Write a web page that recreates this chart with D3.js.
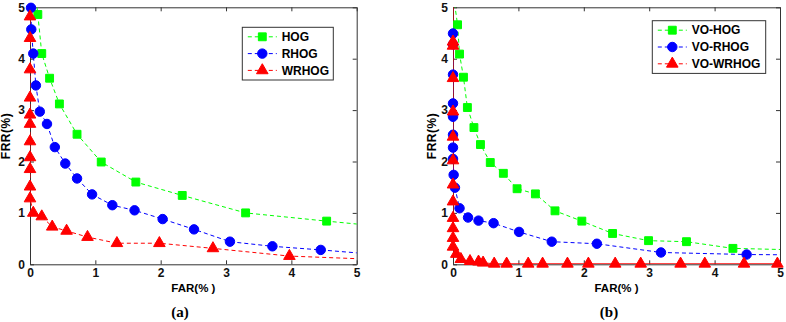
<!DOCTYPE html>
<html>
<head>
<meta charset="utf-8">
<script src="https://cdn.jsdelivr.net/npm/d3@7"></script>
<style>
	body { margin: 0; background: #fff; }
	svg { display: block; }
	.tick text { font-family: "Liberation Sans", Arial, sans-serif; font-weight: bold; font-size: 12px; fill: #111; }
	.axis path, .axis line { stroke: #333; }
</style>
</head>
<body>
<div id="chart"></div>
<script>

// (a) FAR / FRR pairs
const hogA = [[0.07,5.4],[0.12,4.86],[0.18,4.1],[0.3,3.62],[0.45,3.12],[0.72,2.53],[1.09,1.99],[1.62,1.6],
	[2.33,1.34],[3.3,1.0],[4.54,0.84],[5.6,0.71]];
const rhogA = [[0.015,4.99],[0.02,4.57],[0.05,4.1],[0.09,3.48],[0.15,2.97],[0.26,2.73],[0.38,2.28],[0.54,1.96],
	[0.72,1.67],[0.95,1.36],[1.26,1.15],[1.6,1.05],[2.03,0.88],[2.51,0.68],[3.06,0.44],[3.71,0.35],[4.45,0.28],[5.6,0.16]];
const wrhogA = [[0,5.3],[0,4.82],[0,4.4],[0,3.79],[0,3.24],[0,2.91],[0,2.73],[0,2.39],[0,2.08],[0,1.85],[0,1.51],
	[0,1.28],[0.05,1.0],[0.18,0.93],[0.34,0.73],[0.56,0.65],[0.88,0.53],[1.33,0.41],[1.98,0.41],[2.8,0.31],[3.97,0.16],[5.6,0.08]];

// (b)
const voHogB = [[0.01,5.2],[0.07,4.66],[0.1,4.09],[0.16,3.64],[0.22,3.05],[0.32,2.66],[0.42,2.33],[0.57,1.98],
	[0.77,1.77],[0.98,1.47],[1.26,1.37],[1.56,1.04],[1.97,0.84],[2.44,0.6],[2.99,0.46],[3.57,0.44],[4.28,0.31],[5.6,0.27]];
const voRhogB = [[0,4.49],[0,4.28],[0,3.69],[0,3.13],[0,2.87],[0,2.52],[0,2.27],[0,2.05],[0.01,1.74],[0.03,1.49],
	[0.1,1.09],[0.23,0.91],[0.39,0.85],[0.62,0.8],[1.01,0.63],[1.51,0.44],[2.2,0.4],[3.18,0.23],[4.49,0.19],[5.6,0.18]];
const voWrhogB = [[0,5.3],[0,4.33],[0,4.25],[0,3.62],[0,2.97],[0,2.48],[0,2.02],[0,1.55],[0,1.22],[0,0.9],[0,0.7],
	[0,0.51],[0,0.34],[0.05,0.2],[0.12,0.1],[0.26,0.06],[0.39,0.05],[0.46,0.03],[0.63,0.01],[0.82,0.01],[1.15,0.01],
	[1.37,0.01],[1.75,0.01],[2.07,0.01],[2.48,0.01],[2.87,0.01],[3.48,0.01],[3.85,0.01],[4.45,0.01],[4.96,0.01]];

const legendA = ["HOG", "RHOG", "WRHOG"];
const legendB = ["VO-HOG", "VO-RHOG", "VO-WRHOG"];
const ticks = [0, 1, 2, 3, 4, 5];
const captions = ["(a)", "(b)"];

const colors = ["#00ff00", "#0000ff", "#ff0000"];
const shapes = [d3.symbolSquare, d3.symbolCircle, d3.symbolTriangle];
const shapeSize = [62, 70, 58];

const svg = d3.select("#chart").append("svg")
	.attr("width", 786)
	.attr("height", 322);

function drawPanel(cfg) {
	let g = svg.append("g");

	let x = d3.scaleLinear().domain([0, 5]).range([cfg.left, cfg.right]);
	let y = d3.scaleLinear().domain([0, 5]).range([264.3, 7.3]);

	// axes, MATLAB style box with inward ticks
	g.append("g").attr("class", "axis")
		.attr("transform", "translate(0,264.3)")
		.call(d3.axisBottom(x).tickValues(ticks).tickSizeInner(-4).tickSizeOuter(0).tickPadding(4).tickFormat(d3.format("d")));
	g.append("g").attr("class", "axis")
		.attr("transform", "translate(0,7.3)")
		.call(d3.axisTop(x).tickValues(ticks).tickSizeInner(-4).tickSizeOuter(0).tickFormat(""));
	g.append("g").attr("class", "axis")
		.attr("transform", "translate(" + cfg.left + ",0)")
		.call(d3.axisLeft(y).tickValues(ticks).tickSizeInner(-4).tickSizeOuter(0).tickPadding(5).tickFormat(d3.format("d")));
	g.append("g").attr("class", "axis")
		.attr("transform", "translate(" + cfg.right + ",0)")
		.call(d3.axisRight(y).tickValues(ticks).tickSizeInner(-4).tickSizeOuter(0).tickFormat(""));

	g.selectAll(".tick text").attr("font-family", null).attr("font-size", null);

	// clip lines to the axes box (markers stay whole, like MATLAB)
	g.append("clipPath").attr("id", cfg.id)
		.append("rect")
		.attr("x", cfg.left).attr("y", 7.3)
		.attr("width", cfg.right - cfg.left).attr("height", 257);

	let line = d3.line()
		.x(d => x(d[0]))
		.y(d => y(d[1]));

	let plot = g.append("g").attr("clip-path", "url(#" + cfg.id + ")");

	cfg.series.forEach(function(data, i) {
		plot.append("path")
			.datum(data)
			.attr("d", line)
			.attr("fill", "none")
			.attr("stroke", colors[i])
			.attr("stroke-width", 1)
			.attr("stroke-dasharray", cfg.solid[i] ? null : "4,3");
	});

	cfg.series.forEach(function(data, i) {
		g.selectAll(".m" + i)
			.data(data.filter(d => d[0] <= 5 && d[1] <= 5))
			.enter().append("path")
			.attr("class", "m" + i)
			.attr("transform", d => "translate(" + x(d[0]) + "," + y(d[1]) + ")")
			.attr("d", d3.symbol().type(shapes[i]).size(shapeSize[i]))
			.attr("fill", colors[i])
			.attr("stroke", colors[i]);
	});

	// axis titles
	g.append("text")
		.attr("x", (cfg.left + cfg.right) / 2)
		.attr("y", 291.5)
		.attr("text-anchor", "middle")
		.style("font", "bold 11.5px 'Liberation Sans', Arial, sans-serif")
		.text("FAR(% )");

	g.append("text")
		.attr("transform", "translate(" + cfg.ylabX + ",136) rotate(-90)")
		.attr("text-anchor", "middle")
		.style("font", "bold 12px 'Liberation Sans', Arial, sans-serif")
		.style("letter-spacing", "0.5px")
		.text("FRR(%)");

	g.append("text")
		.attr("x", cfg.capX)
		.attr("y", 317)
		.attr("text-anchor", "middle")
		.style("font", "bold 15px 'Liberation Serif', 'Times New Roman', serif")
		.text(cfg.caption);

	// legend
	let lg = g.append("g").attr("transform", "translate(" + cfg.legX + "," + cfg.legY + ")");
	lg.append("rect")
		.attr("width", cfg.legW).attr("height", 52.7)
		.attr("fill", "#fff")
		.attr("stroke", "#333");

	cfg.names.forEach(function(name, i) {
		let ly = 9.5 + i * 16.8;
		lg.append("line")
			.attr("x1", 5.5).attr("x2", 34.5)
			.attr("y1", ly).attr("y2", ly)
			.attr("stroke", colors[i])
			.attr("stroke-dasharray", "4,3");
		lg.append("path")
			.attr("transform", "translate(20," + ly + ")")
			.attr("d", d3.symbol().type(shapes[i]).size(shapeSize[i]))
			.attr("fill", colors[i])
			.attr("stroke", colors[i]);
		lg.append("text")
			.attr("x", 39.4).attr("y", ly + 4.3)
			.style("font", "bold 12px 'Liberation Sans', Arial, sans-serif")
			.text(name);
	});
}

drawPanel({id: "clipA", left: 30, right: 356.7, ylabX: 10, capX: 180, caption: captions[0],
	series: [hogA, rhogA, wrhogA], solid: [false, false, false],
	names: legendA, legX: 242.3, legY: 27.3, legW: 91});

drawPanel({id: "clipB", left: 453, right: 780, ylabX: 436, capX: 609, caption: captions[1],
	series: [voHogB, voRhogB, voWrhogB], solid: [false, false, true],
	names: legendB, legX: 652.3, legY: 20.7, legW: 113.4});

</script>
</body>
</html>
